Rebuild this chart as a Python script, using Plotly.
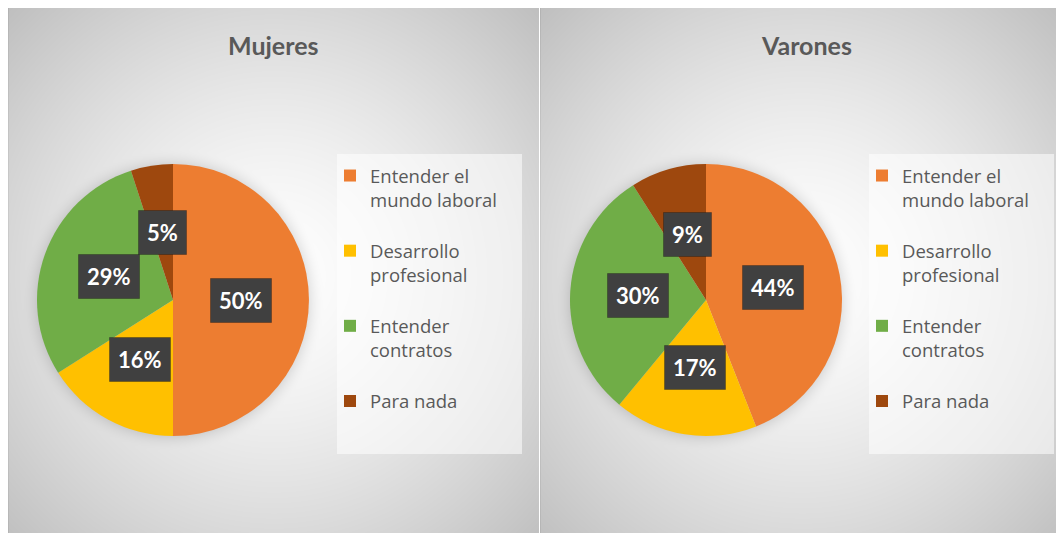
import base64
import math
import struct
import zlib

import numpy as np
import plotly.graph_objects as go

# ---------------- data ----------------
categories = ["Entender el mundo laboral", "Desarrollo profesional",
              "Entender contratos", "Para nada"]
legend_names = ["Entender el<br>mundo laboral<br> ", "Desarrollo<br>profesional<br> ",
                "Entender<br>contratos<br> ", "Para nada<br> <br> "]
mujeres = [50, 16, 29, 5]
varones = [44, 17, 30, 9]
titles = ["Mujeres", "Varones"]
colors = ["#ED7D31", "#FFC000", "#70AD47", "#9E480E"]

# ---------------- layout geometry (window pixels) ----------------
WIN_W, WIN_H = 1064, 533
OFF = 8                      # default page body margin
W, H = WIN_W - OFF, WIN_H - OFF
R = 136
pie_centers = [(173, 300), (706, 300)]
panels = [(8, 539, 7, 545), (540, 1064, 7, 545)]
legend_boxes = [(337, 522, 154, 454), (869, 1054, 154, 454)]
legend_left = [330, 862]
legend_top = 157
title_pos = [(273, 45), (806, 45)]
TEXT = "#595959"
FONT = "Lato"
LEGEND_FONT = "Open Sans"


def fx(x):
    return (x - OFF) / W


def fy(y):
    return 1 - (y - OFF) / H


# ---------------- background (radial gradient panels) ----------------
def make_background():
    yy, xx = np.mgrid[0:WIN_H, 0:WIN_W].astype(float)
    img = np.full((WIN_H, WIN_W), 255.0)
    for (x0, x1, y0, y1), (pcx, pcy) in zip(panels, pie_centers):
        cx, cy = (x0 + x1) / 2, (y0 + y1) / 2
        hw, hh = (x1 - x0) / 2, (y1 - y0) / 2
        t = np.sqrt(((xx - cx) / hw) ** 2 + ((yy - cy) / hh) ** 2) / math.sqrt(2)
        val = 255 - 64 * np.clip(t, 0, 1.2) ** 1.4
        d = np.sqrt((xx - pcx) ** 2 + (yy - pcy) ** 2)
        s = np.clip((R + 16 - d) / 18, 0, 1) ** 2
        val = val - 28 * s
        inside = (xx >= x0) & (xx < x1) & (yy >= y0) & (yy < y1)
        img[inside] = val[inside]
        edge = inside & ((xx == x0) | (yy == y0))
        img[edge] = img[edge] - 12
    img[:, 539] = 255
    img = img[OFF:, OFF:]
    return np.clip(img, 0, 255).astype(np.uint8)


def png_gray(arr):
    h, w = arr.shape
    raw = b"".join(b"\x00" + arr[i].tobytes() for i in range(h))

    def chunk(tag, data):
        c = struct.pack(">I", len(data)) + tag + data
        return c + struct.pack(">I", zlib.crc32(tag + data) & 0xFFFFFFFF)

    ihdr = struct.pack(">IIBBBBB", w, h, 8, 0, 0, 0, 0)
    return (b"\x89PNG\r\n\x1a\n" + chunk(b"IHDR", ihdr)
            + chunk(b"IDAT", zlib.compress(raw, 9)) + chunk(b"IEND", b""))


bg_uri = "data:image/png;base64," + base64.b64encode(png_gray(make_background())).decode()

fig = go.Figure()
annotations = []
shapes = []

for i, (vals, (cx, cy)) in enumerate(zip([mujeres, varones], pie_centers)):
    lg = "legend" if i == 0 else "legend2"
    # second chart uses a distinct blank marker so its legend entries are not merged
    names = legend_names if i == 0 else [n.replace("<br> ", "<br>&nbsp;") for n in legend_names]
    fig.add_trace(go.Pie(
        labels=names,
        values=vals,
        hovertext=categories,
        sort=False,
        direction="clockwise",
        rotation=0,
        textinfo="none",
        hoverinfo="text+percent",
        marker=dict(colors=colors, line=dict(width=0)),
        domain=dict(x=[fx(cx - R), fx(cx + R)], y=[fy(cy + R), fy(cy - R)]),
        legend=lg,
        showlegend=True,
    ))
    # data labels at the middle of each slice
    total = sum(vals)
    cum = 0
    for v in vals:
        theta = 2 * math.pi * (cum + v / 2) / total
        cum += v
        lx = cx + 0.5 * R * math.sin(theta)
        ly = cy - 0.5 * R * math.cos(theta)
        annotations.append(dict(
            x=fx(lx), y=fy(ly), xref="paper", yref="paper",
            text=f"<b>{round(100 * v / total)}%</b>",
            showarrow=False, xanchor="center", yanchor="middle", borderpad=8,
            font=dict(family=FONT, size=22, color="white"),
            bgcolor="#404040", bordercolor="rgba(0,0,0,0.25)", borderwidth=1))
    # title
    tx, ty = title_pos[i]
    annotations.append(dict(
        x=fx(tx), y=fy(ty), xref="paper", yref="paper", text=f"<b>{titles[i]}</b>",
        showarrow=False, xanchor="center", yanchor="middle",
        font=dict(family=FONT, size=25, color=TEXT)))
    # legend box
    bx0, bx1, by0, by1 = legend_boxes[i]
    shapes.append(dict(type="rect", xref="paper", yref="paper",
                       x0=fx(bx0), x1=fx(bx1), y0=fy(by1), y1=fy(by0),
                       fillcolor="rgba(255,255,255,0.55)", line=dict(width=0), layer="below"))

legend_common = dict(
    font=dict(family=LEGEND_FONT, size=18.5, color=TEXT),
    bgcolor="rgba(0,0,0,0)", borderwidth=0, xanchor="left", yanchor="top",
    valign="top", itemclick=False, itemdoubleclick=False,
)

fig.update_layout(
    width=W, height=H,
    margin=dict(l=0, r=0, t=0, b=0),
    paper_bgcolor="white",
    plot_bgcolor="white",
    images=[dict(source=bg_uri, xref="paper", yref="paper", x=0, y=1,
                 sizex=1, sizey=1, xanchor="left", yanchor="top",
                 sizing="stretch", layer="below")],
    legend=dict(x=fx(legend_left[0]), y=fy(legend_top), **legend_common),
    legend2=dict(x=fx(legend_left[1]), y=fy(legend_top), **legend_common),
    annotations=annotations,
    shapes=shapes,
)

fig.write_html("out.html", config={"displayModeBar": False})
